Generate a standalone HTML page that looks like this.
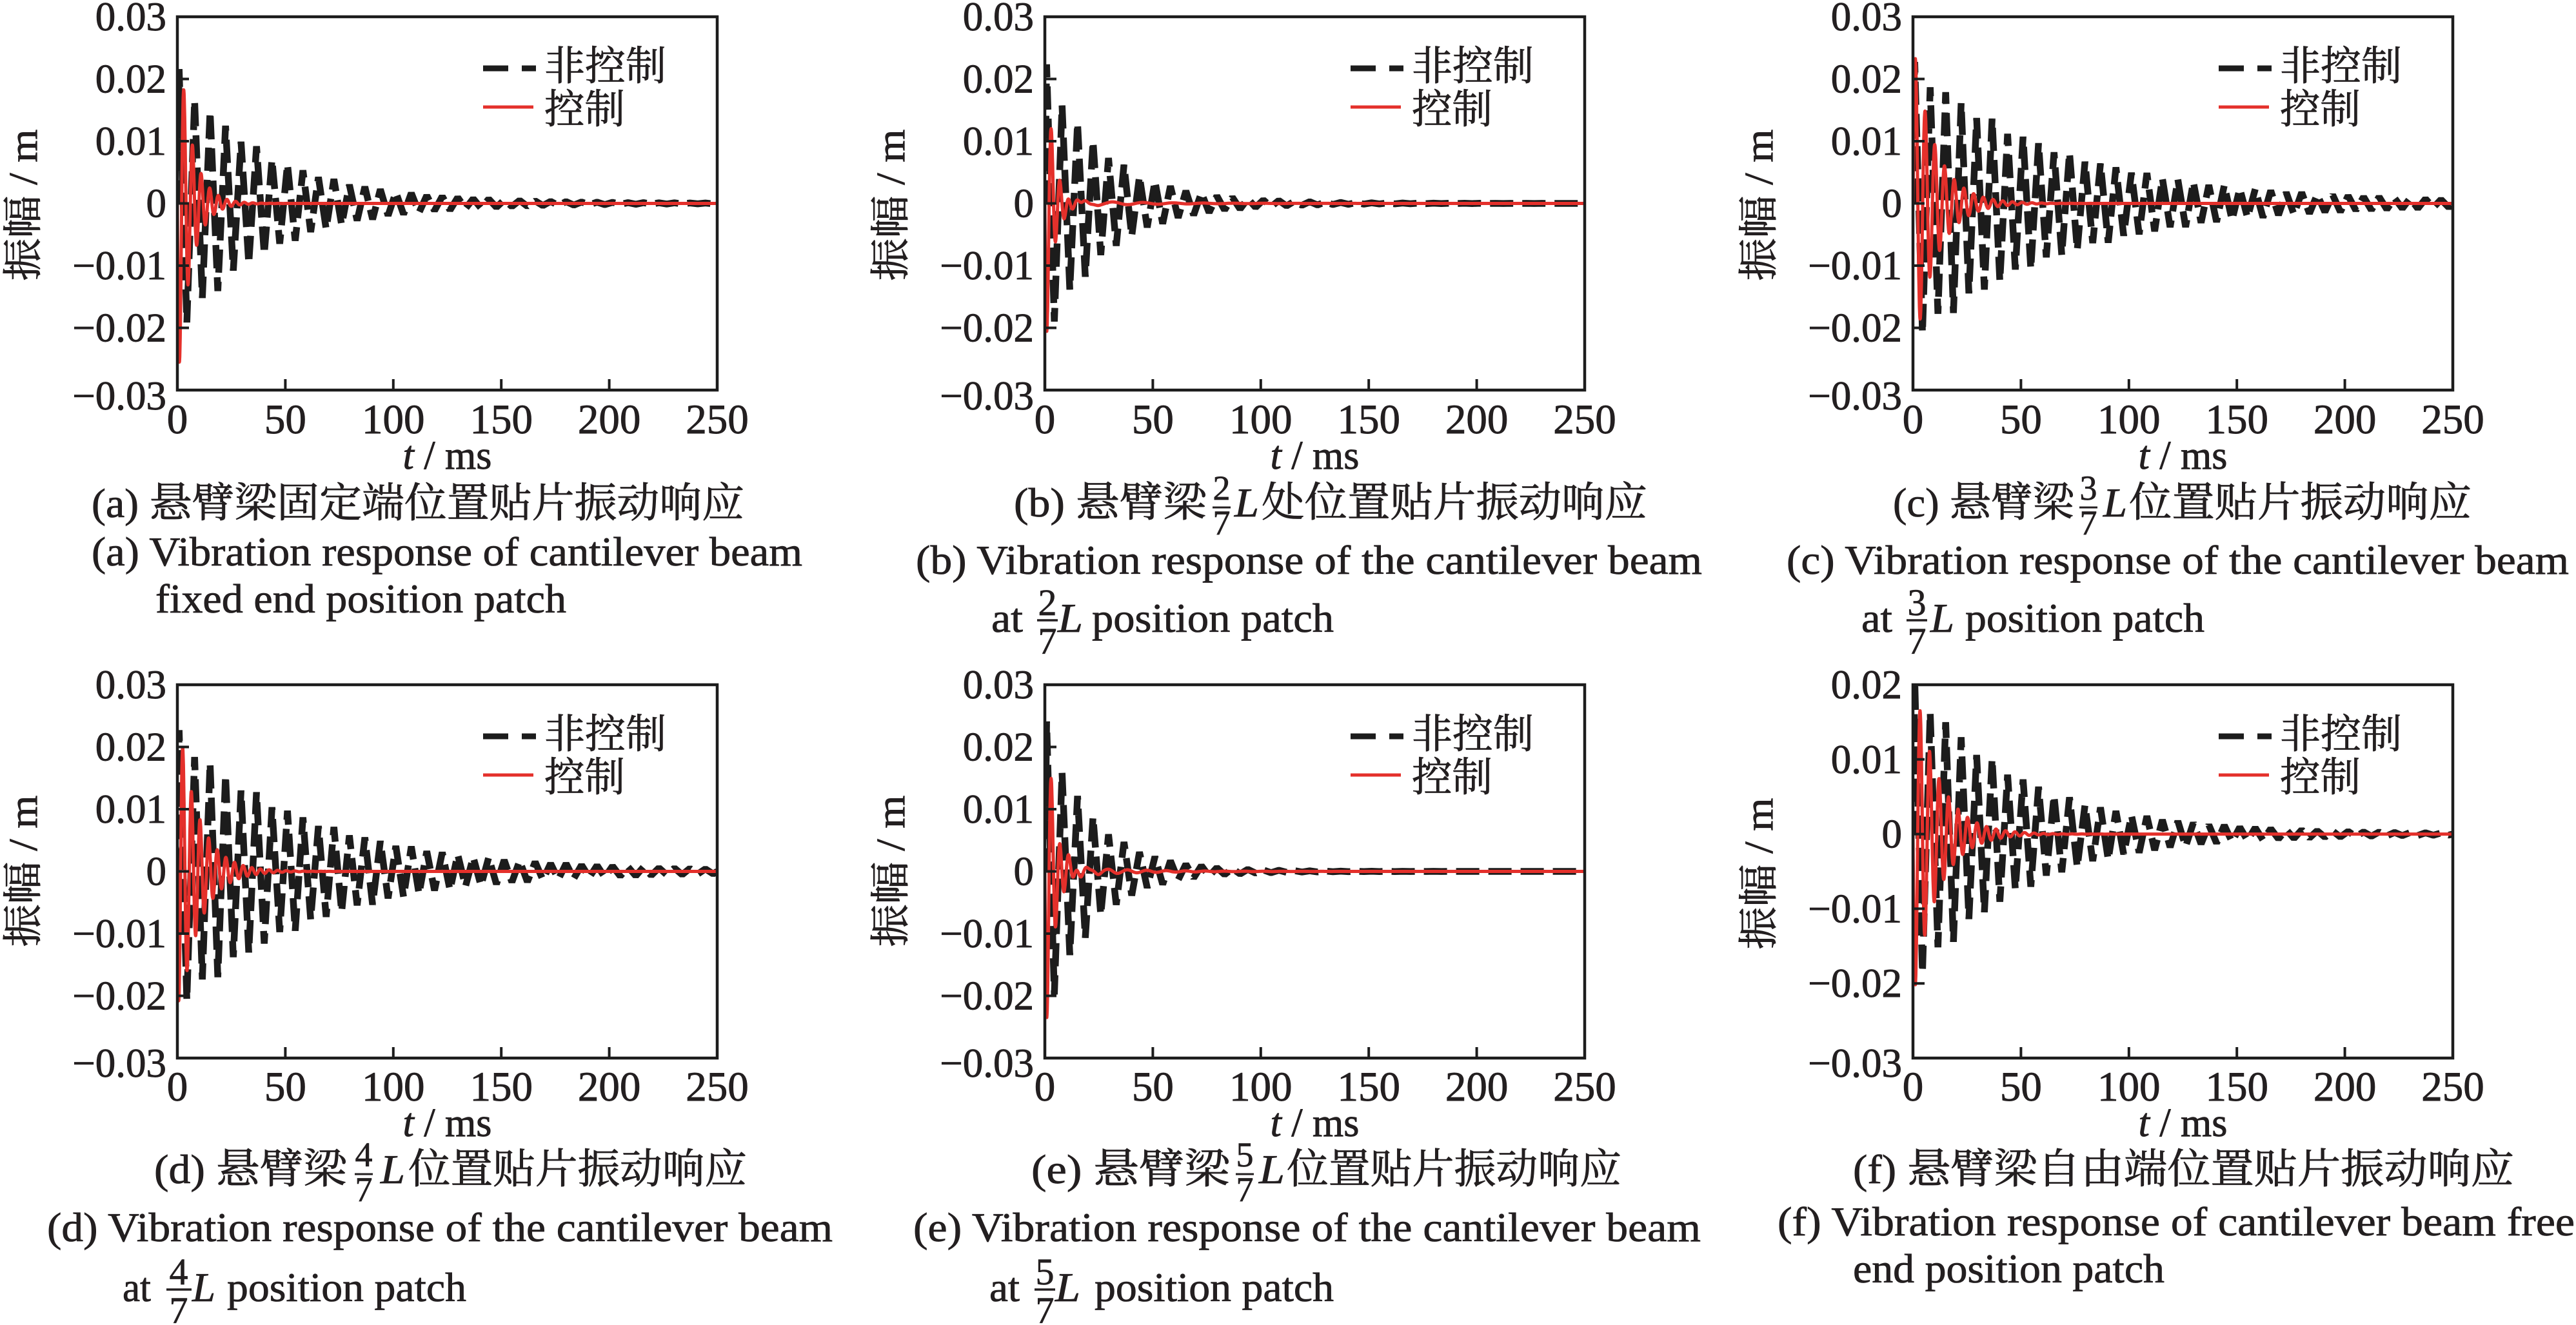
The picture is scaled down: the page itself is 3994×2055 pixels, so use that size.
<!DOCTYPE html>
<html><head><meta charset="utf-8">
<style>
html,body{margin:0;padding:0;background:#fff;}
svg{display:block;}
.tk{font-family:"Liberation Serif",serif;font-size:63px;fill:#231f20;stroke:#231f20;stroke-width:0.9;}
.xt{font-family:"Liberation Serif",serif;font-size:65px;fill:#231f20;text-anchor:middle;stroke:#231f20;stroke-width:0.9;}
.cap{font-family:"Liberation Serif","Noto Serif CJK SC",serif;font-size:64px;fill:#231f20;stroke:#231f20;stroke-width:0.8;}
.fr{font-family:"Liberation Serif",serif;font-size:54px;fill:#231f20;text-anchor:middle;stroke:#231f20;stroke-width:0.7;}
.fr2{font-family:"Liberation Serif",serif;font-size:58px;fill:#231f20;text-anchor:middle;stroke:#231f20;stroke-width:0.7;}
.it{font-style:italic;}
.lg{font-family:"Liberation Serif","Noto Serif CJK SC",serif;font-size:63px;fill:#231f20;stroke:#231f20;stroke-width:0.8;}
.yl{font-family:"Liberation Serif","Noto Serif CJK SC",serif;font-size:62px;fill:#231f20;text-anchor:middle;stroke:#231f20;stroke-width:0.8;}
.frame{fill:none;stroke:#1c1c1c;stroke-width:4.5;}
.tick{fill:none;stroke:#1c1c1c;stroke-width:4;}
.blk{fill:none;stroke:#1c1c1c;stroke-width:10.5;stroke-dasharray:36 14;stroke-linejoin:bevel;}
.red{fill:none;stroke:#e4302b;stroke-width:5;stroke-linejoin:round;}
</style></head>
<body>
<svg id="chart" xmlns="http://www.w3.org/2000/svg" width="3994" height="2055" viewBox="0 0 3994 2055">
<defs>
<clipPath id="c-a"><rect x="275" y="26" width="837" height="579"/></clipPath>
<clipPath id="c-b"><rect x="1620" y="26" width="837" height="579"/></clipPath>
<clipPath id="c-c"><rect x="2966" y="26" width="837" height="579"/></clipPath>
<clipPath id="c-d"><rect x="275" y="1062" width="837" height="579"/></clipPath>
<clipPath id="c-e"><rect x="1620" y="1062" width="837" height="579"/></clipPath>
<clipPath id="c-f"><rect x="2966" y="1062" width="837" height="579"/></clipPath>
</defs>

<!-- data -->
<g clip-path="url(#c-a)"><path id="b-a" class="blk"/><path id="r-a" class="red"/></g>
<g clip-path="url(#c-b)"><path id="b-b" class="blk"/><path id="r-b" class="red"/></g>
<g clip-path="url(#c-c)"><path id="b-c" class="blk"/><path id="r-c" class="red"/></g>
<g clip-path="url(#c-d)"><path id="b-d" class="blk"/><path id="r-d" class="red"/></g>
<g clip-path="url(#c-e)"><path id="b-e" class="blk"/><path id="r-e" class="red"/></g>
<g clip-path="url(#c-f)"><path id="b-f" class="blk"/><path id="r-f" class="red"/></g>

<!-- frames -->
<rect class="frame" x="275" y="26" width="837" height="579"/>
<rect class="frame" x="1620" y="26" width="837" height="579"/>
<rect class="frame" x="2966" y="26" width="837" height="579"/>
<rect class="frame" x="275" y="1062" width="837" height="579"/>
<rect class="frame" x="1620" y="1062" width="837" height="579"/>
<rect class="frame" x="2966" y="1062" width="837" height="579"/>

<!-- ticks -->
<path class="tick" d="M275 122.5h18M275 219h18M275 315.5h18M275 412h18M275 508.5h18M442.4 605v-17M609.8 605v-17M777.2 605v-17M944.6 605v-17"/>
<path class="tick" d="M1620 122.5h18M1620 219h18M1620 315.5h18M1620 412h18M1620 508.5h18M1787.4 605v-17M1954.8 605v-17M2122.2 605v-17M2289.6 605v-17"/>
<path class="tick" d="M2966 122.5h18M2966 219h18M2966 315.5h18M2966 412h18M2966 508.5h18M3133.4 605v-17M3300.8 605v-17M3468.2 605v-17M3635.6 605v-17"/>
<path class="tick" d="M275 1158.5h18M275 1255h18M275 1351.5h18M275 1448h18M275 1544.5h18M442.4 1641v-17M609.8 1641v-17M777.2 1641v-17M944.6 1641v-17"/>
<path class="tick" d="M1620 1158.5h18M1620 1255h18M1620 1351.5h18M1620 1448h18M1620 1544.5h18M1787.4 1641v-17M1954.8 1641v-17M2122.2 1641v-17M2289.6 1641v-17"/>
<path class="tick" d="M2966 1177.8h18M2966 1293.6h18M2966 1409.4h18M2966 1525.2h18M3133.4 1641v-17M3300.8 1641v-17M3468.2 1641v-17M3635.6 1641v-17"/>

<!-- y tick labels -->
<g class="tk" text-anchor="end">
<text x="258" y="47">0.03</text><text x="258" y="143.5">0.02</text><text x="258" y="240">0.01</text><text x="258" y="336.5">0</text><text x="258" y="433">−0.01</text><text x="258" y="529.5">−0.02</text><text x="258" y="635">−0.03</text>
<text x="1603" y="47">0.03</text><text x="1603" y="143.5">0.02</text><text x="1603" y="240">0.01</text><text x="1603" y="336.5">0</text><text x="1603" y="433">−0.01</text><text x="1603" y="529.5">−0.02</text><text x="1603" y="635">−0.03</text>
<text x="2949" y="47">0.03</text><text x="2949" y="143.5">0.02</text><text x="2949" y="240">0.01</text><text x="2949" y="336.5">0</text><text x="2949" y="433">−0.01</text><text x="2949" y="529.5">−0.02</text><text x="2949" y="635">−0.03</text>
<text x="258" y="1083">0.03</text><text x="258" y="1179.5">0.02</text><text x="258" y="1276">0.01</text><text x="258" y="1372.5">0</text><text x="258" y="1469">−0.01</text><text x="258" y="1565.5">−0.02</text><text x="258" y="1670">−0.03</text>
<text x="1603" y="1083">0.03</text><text x="1603" y="1179.5">0.02</text><text x="1603" y="1276">0.01</text><text x="1603" y="1372.5">0</text><text x="1603" y="1469">−0.01</text><text x="1603" y="1565.5">−0.02</text><text x="1603" y="1670">−0.03</text>
<text x="2949" y="1083">0.02</text><text x="2949" y="1199">0.01</text><text x="2949" y="1314.6">0</text><text x="2949" y="1430.4">−0.01</text><text x="2949" y="1546.2">−0.02</text><text x="2949" y="1670">−0.03</text>
</g>

<!-- x tick labels -->
<g class="xt">
<text x="275" y="672">0</text><text x="442.4" y="672">50</text><text x="609.8" y="672">100</text><text x="777.2" y="672">150</text><text x="944.6" y="672">200</text><text x="1112" y="672">250</text>
<text x="1620" y="672">0</text><text x="1787.4" y="672">50</text><text x="1954.8" y="672">100</text><text x="2122.2" y="672">150</text><text x="2289.6" y="672">200</text><text x="2457" y="672">250</text>
<text x="2966" y="672">0</text><text x="3133.4" y="672">50</text><text x="3300.8" y="672">100</text><text x="3468.2" y="672">150</text><text x="3635.6" y="672">200</text><text x="3803" y="672">250</text>
<text x="275" y="1707">0</text><text x="442.4" y="1707">50</text><text x="609.8" y="1707">100</text><text x="777.2" y="1707">150</text><text x="944.6" y="1707">200</text><text x="1112" y="1707">250</text>
<text x="1620" y="1707">0</text><text x="1787.4" y="1707">50</text><text x="1954.8" y="1707">100</text><text x="2122.2" y="1707">150</text><text x="2289.6" y="1707">200</text><text x="2457" y="1707">250</text>
<text x="2966" y="1707">0</text><text x="3133.4" y="1707">50</text><text x="3300.8" y="1707">100</text><text x="3468.2" y="1707">150</text><text x="3635.6" y="1707">200</text><text x="3803" y="1707">250</text>
</g>

<!-- x axis titles -->
<g class="xt" style="font-size:62px">
<text x="693.5" y="727"><tspan class="it">t</tspan> / ms</text>
<text x="2038.5" y="727"><tspan class="it">t</tspan> / ms</text>
<text x="3384.5" y="727"><tspan class="it">t</tspan> / ms</text>
<text x="693.5" y="1762"><tspan class="it">t</tspan> / ms</text>
<text x="2038.5" y="1762"><tspan class="it">t</tspan> / ms</text>
<text x="3384.5" y="1762"><tspan class="it">t</tspan> / ms</text>
</g>

<!-- y axis titles -->
<text class="yl" transform="translate(57,318) rotate(-90)" textLength="235" lengthAdjust="spacingAndGlyphs">振幅 / m</text>
<text class="yl" transform="translate(1402,318) rotate(-90)" textLength="235" lengthAdjust="spacingAndGlyphs">振幅 / m</text>
<text class="yl" transform="translate(2748,318) rotate(-90)" textLength="235" lengthAdjust="spacingAndGlyphs">振幅 / m</text>
<text class="yl" transform="translate(57,1351) rotate(-90)" textLength="235" lengthAdjust="spacingAndGlyphs">振幅 / m</text>
<text class="yl" transform="translate(1402,1351) rotate(-90)" textLength="235" lengthAdjust="spacingAndGlyphs">振幅 / m</text>
<text class="yl" transform="translate(2748,1355) rotate(-90)" textLength="235" lengthAdjust="spacingAndGlyphs">振幅 / m</text>

<!-- legends -->
<g>
<line x1="749" x2="831" y1="106" y2="106" stroke="#1c1c1c" stroke-width="9" stroke-dasharray="39 21"/>
<text class="lg" x="844" y="124" textLength="189" lengthAdjust="spacingAndGlyphs">非控制</text>
<line x1="749" x2="827" y1="166" y2="166" stroke="#e4302b" stroke-width="5"/>
<text class="lg" x="844" y="191" textLength="125" lengthAdjust="spacingAndGlyphs">控制</text>

<line x1="2094" x2="2176" y1="106" y2="106" stroke="#1c1c1c" stroke-width="9" stroke-dasharray="39 21"/>
<text class="lg" x="2189" y="124" textLength="189" lengthAdjust="spacingAndGlyphs">非控制</text>
<line x1="2094" x2="2172" y1="166" y2="166" stroke="#e4302b" stroke-width="5"/>
<text class="lg" x="2189" y="191" textLength="125" lengthAdjust="spacingAndGlyphs">控制</text>

<line x1="3440" x2="3522" y1="106" y2="106" stroke="#1c1c1c" stroke-width="9" stroke-dasharray="39 21"/>
<text class="lg" x="3535" y="124" textLength="189" lengthAdjust="spacingAndGlyphs">非控制</text>
<line x1="3440" x2="3518" y1="166" y2="166" stroke="#e4302b" stroke-width="5"/>
<text class="lg" x="3535" y="191" textLength="125" lengthAdjust="spacingAndGlyphs">控制</text>

<line x1="749" x2="831" y1="1142" y2="1142" stroke="#1c1c1c" stroke-width="9" stroke-dasharray="39 21"/>
<text class="lg" x="844" y="1160" textLength="189" lengthAdjust="spacingAndGlyphs">非控制</text>
<line x1="749" x2="827" y1="1202" y2="1202" stroke="#e4302b" stroke-width="5"/>
<text class="lg" x="844" y="1227" textLength="125" lengthAdjust="spacingAndGlyphs">控制</text>

<line x1="2094" x2="2176" y1="1142" y2="1142" stroke="#1c1c1c" stroke-width="9" stroke-dasharray="39 21"/>
<text class="lg" x="2189" y="1160" textLength="189" lengthAdjust="spacingAndGlyphs">非控制</text>
<line x1="2094" x2="2172" y1="1202" y2="1202" stroke="#e4302b" stroke-width="5"/>
<text class="lg" x="2189" y="1227" textLength="125" lengthAdjust="spacingAndGlyphs">控制</text>

<line x1="3440" x2="3522" y1="1142" y2="1142" stroke="#1c1c1c" stroke-width="9" stroke-dasharray="39 21"/>
<text class="lg" x="3535" y="1160" textLength="189" lengthAdjust="spacingAndGlyphs">非控制</text>
<line x1="3440" x2="3518" y1="1202" y2="1202" stroke="#e4302b" stroke-width="5"/>
<text class="lg" x="3535" y="1227" textLength="125" lengthAdjust="spacingAndGlyphs">控制</text>
</g>

<!-- captions (a) -->
<text class="cap" x="142" y="802" textLength="1012" lengthAdjust="spacingAndGlyphs">(a) 悬臂梁固定端位置贴片振动响应</text>
<text class="cap" x="142" y="877" textLength="1102" lengthAdjust="spacingAndGlyphs">(a) Vibration response of cantilever beam</text>
<text class="cap" x="241" y="950" textLength="637" lengthAdjust="spacingAndGlyphs">fixed end position patch</text>

<!-- captions (b) -->
<text class="cap" x="1572" y="801" textLength="299" lengthAdjust="spacingAndGlyphs">(b) 悬臂梁</text>
<text class="fr" x="1894" y="775">2</text>
<line x1="1880" x2="1908" y1="787" y2="787" stroke="#231f20" stroke-width="3"/>
<text class="fr" x="1894" y="829">7</text>
<text class="cap it" x="1914" y="801" textLength="38" lengthAdjust="spacingAndGlyphs">L</text>
<text class="cap" x="1956" y="801" textLength="598" lengthAdjust="spacingAndGlyphs">处位置贴片振动响应</text>
<text class="cap" x="1420" y="890" textLength="1219" lengthAdjust="spacingAndGlyphs">(b) Vibration response of the cantilever beam</text>
<text class="cap" x="1537" y="980" textLength="49" lengthAdjust="spacingAndGlyphs">at</text>
<text class="fr2" x="1624" y="954">2</text>
<line x1="1608" x2="1640" y1="962" y2="962" stroke="#231f20" stroke-width="3.5"/>
<text class="fr2" x="1624" y="1014">7</text>
<text class="cap it" x="1640" y="980" textLength="39" lengthAdjust="spacingAndGlyphs">L</text>
<text class="cap" x="1693" y="980" textLength="375" lengthAdjust="spacingAndGlyphs">position patch</text>

<!-- captions (c) -->
<text class="cap" x="2935" y="801" textLength="281" lengthAdjust="spacingAndGlyphs">(c) 悬臂梁</text>
<text class="fr" x="3238" y="775">3</text>
<line x1="3224" x2="3252" y1="787" y2="787" stroke="#231f20" stroke-width="3"/>
<text class="fr" x="3238" y="829">7</text>
<text class="cap it" x="3261" y="801" textLength="37" lengthAdjust="spacingAndGlyphs">L</text>
<text class="cap" x="3301" y="801" textLength="531" lengthAdjust="spacingAndGlyphs">位置贴片振动响应</text>
<text class="cap" x="2770" y="890" textLength="1213" lengthAdjust="spacingAndGlyphs">(c) Vibration response of the cantilever beam</text>
<text class="cap" x="2886" y="980" textLength="48" lengthAdjust="spacingAndGlyphs">at</text>
<text class="fr2" x="2972" y="954">3</text>
<line x1="2956" x2="2988" y1="962" y2="962" stroke="#231f20" stroke-width="3.5"/>
<text class="fr2" x="2972" y="1014">7</text>
<text class="cap it" x="2993" y="980" textLength="37" lengthAdjust="spacingAndGlyphs">L</text>
<text class="cap" x="3047" y="980" textLength="371" lengthAdjust="spacingAndGlyphs">position patch</text>

<!-- captions (d) -->
<text class="cap" x="239" y="1835" textLength="299" lengthAdjust="spacingAndGlyphs">(d) 悬臂梁</text>
<text class="fr" x="564" y="1809">4</text>
<line x1="550" x2="578" y1="1821" y2="1821" stroke="#231f20" stroke-width="3"/>
<text class="fr" x="564" y="1863">7</text>
<text class="cap it" x="590" y="1835" textLength="38" lengthAdjust="spacingAndGlyphs">L</text>
<text class="cap" x="633" y="1835" textLength="525" lengthAdjust="spacingAndGlyphs">位置贴片振动响应</text>
<text class="cap" x="73" y="1925" textLength="1218" lengthAdjust="spacingAndGlyphs">(d) Vibration response of the cantilever beam</text>
<text class="cap" x="190" y="2018" textLength="44" lengthAdjust="spacingAndGlyphs">at</text>
<text class="fr2" x="277" y="1992">4</text>
<line x1="258" x2="297" y1="2000" y2="2000" stroke="#231f20" stroke-width="3.5"/>
<text class="fr2" x="277" y="2052">7</text>
<text class="cap it" x="298" y="2018" textLength="36" lengthAdjust="spacingAndGlyphs">L</text>
<text class="cap" x="352" y="2018" textLength="371" lengthAdjust="spacingAndGlyphs">position patch</text>

<!-- captions (e) -->
<text class="cap" x="1599" y="1835" textLength="308" lengthAdjust="spacingAndGlyphs">(e) 悬臂梁</text>
<text class="fr" x="1930" y="1809">5</text>
<line x1="1916" x2="1944" y1="1821" y2="1821" stroke="#231f20" stroke-width="3"/>
<text class="fr" x="1930" y="1863">7</text>
<text class="cap it" x="1952" y="1835" textLength="40" lengthAdjust="spacingAndGlyphs">L</text>
<text class="cap" x="1995" y="1835" textLength="519" lengthAdjust="spacingAndGlyphs">位置贴片振动响应</text>
<text class="cap" x="1416" y="1925" textLength="1221" lengthAdjust="spacingAndGlyphs">(e) Vibration response of the cantilever beam</text>
<text class="cap" x="1534" y="2018" textLength="47" lengthAdjust="spacingAndGlyphs">at</text>
<text class="fr2" x="1620" y="1992">5</text>
<line x1="1604" x2="1636" y1="2000" y2="2000" stroke="#231f20" stroke-width="3.5"/>
<text class="fr2" x="1620" y="2052">7</text>
<text class="cap it" x="1636" y="2018" textLength="39" lengthAdjust="spacingAndGlyphs">L</text>
<text class="cap" x="1697" y="2018" textLength="371" lengthAdjust="spacingAndGlyphs">position patch</text>

<!-- captions (f) -->
<text class="cap" x="2873" y="1835" textLength="1025" lengthAdjust="spacingAndGlyphs">(f) 悬臂梁自由端位置贴片振动响应</text>
<text class="cap" x="2756" y="1916" textLength="1236" lengthAdjust="spacingAndGlyphs">(f) Vibration response of cantilever beam free</text>
<text class="cap" x="2873" y="1989" textLength="483" lengthAdjust="spacingAndGlyphs">end position patch</text>
</svg>

<script>
(function(){
var W=837,H=579,PI=Math.PI;
var P=[
 {id:'a',L:275,T:26,ymax:.03,ymin:-.03,bA:.022,bt:42,red:function(t){return -0.03*Math.exp(-t/6)*Math.sin(2*PI*t/4);}},
 {id:'b',L:1620,T:26,ymax:.03,ymin:-.03,bA:.023,bt:28,red:function(t){return -0.027*Math.exp(-t/3.5)*Math.sin(2*PI*t/4)+0.0007*Math.exp(-t/30)*Math.sin(2*PI*t/14)*(1-Math.exp(-t/3));}},
 {id:'c',L:2966,T:26,ymax:.03,ymin:-.03,bA:.023,bt:70,red:function(t){return 0.026*Math.exp(-t/10)*Math.sin(2*PI*t/4.5);}},
 {id:'d',L:275,T:1062,ymax:.03,ymin:-.03,bA:.023,bt:62,red:function(t){return 0.026*Math.exp(-t/9.2)*Math.cos(2*PI*(t-2.5)/4)*(1-Math.exp(-t/0.3));}},
 {id:'e',L:1620,T:1062,ymax:.03,ymin:-.03,bA:.025,bt:22,red:function(t){return -0.03*Math.exp(-t/4)*Math.sin(2*PI*t/4)+0.0012*Math.exp(-t/25)*Math.sin(2*PI*t/9)*(1-Math.exp(-t/3));}},
 {id:'f',L:2966,T:1062,ymax:.02,ymin:-.03,bA:.021,bt:50,red:function(t){return -0.0223*Math.exp(-t/11)*Math.sin(2*PI*t/4.4);}}
];
P.forEach(function(p){
  function X(t){return (p.L+t/250*W).toFixed(1);}
  function Y(v){return (p.T+(p.ymax-v)/(p.ymax-p.ymin)*H).toFixed(1);}
  var hs=12*250/W;
  var d='M'+X(0)+' '+Y(0);
  for(var k=0;;k++){
    var t=0.8+k*hs; if(t>250) break;
    var m=0.95+0.05*Math.cos(2*PI*k/5);
    var v=(k%2?-1:1)*p.bA*Math.exp(-t/p.bt)*m;
    d+='L'+X(t)+' '+Y(v);
  }
  d+='L'+X(250)+' '+Y(0);
  document.getElementById('b-'+p.id).setAttribute('d',d);
  var r='M'+X(0)+' '+Y(p.red(0));
  var t2=0;
  while(t2<250){
    t2+= (t2<60?0.1:0.5);
    r+='L'+X(t2)+' '+Y(p.red(t2));
  }
  document.getElementById('r-'+p.id).setAttribute('d',r);
});
})();
</script>
</body></html>
